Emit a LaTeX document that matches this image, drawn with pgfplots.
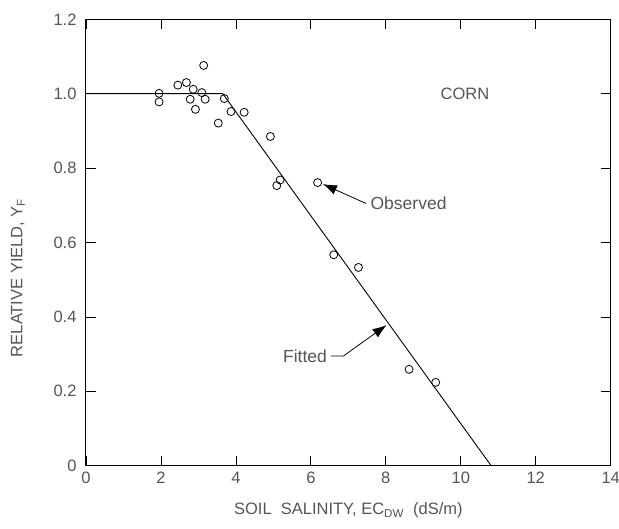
\documentclass[border=0pt]{standalone}
\usepackage{pgfplots}
\pgfplotsset{compat=1.18}
\usetikzlibrary{arrows.meta}
\usepackage{fontspec}
\setmainfont{Liberation Sans}
\definecolor{txtgray}{RGB}{85,85,85}

\begin{document}
\begin{tikzpicture}
\begin{axis}[
  scale only axis,
  width=524.7pt, height=446.4pt,
  xmin=0, xmax=14, ymin=0, ymax=1.2,
  xtick={0,2,...,14}, ytick={0,0.2,...,1.2},
  yticklabels={0,0.2,0.4,0.6,0.8,1.0,1.2},
  tick align=inside, major tick length=10pt,
  tick style={black, line width=0.8pt},
  axis line style={black, line width=1pt},
  /pgf/number format/assume math mode=true,
  ticklabel style={font=\fontsize{16.5}{18}\selectfont, text=txtgray},
  xticklabel style={yshift=-3pt},
  yticklabel style={xshift=-6pt},
  xlabel={SOIL\ \ SALINITY, EC\textsubscript{DW}\ \ (dS/m)},
  ylabel={RELATIVE YIELD, Y\textsubscript{F}},
  label style={font=\fontsize{16.5}{18}\selectfont, text=txtgray},
  xlabel style={at={(axis description cs:0.5,-0.100)}, anchor=center},
  ylabel style={at={(axis description cs:-0.1296,0.421)}, anchor=center, rotate=0},
  clip=false,
]
% fitted line
\addplot[black, line width=0.9pt] coordinates {(0,1.0) (3.65,1.0) (10.81,0)};
% observed points
\addplot[only marks, mark=o, mark size=4pt, mark options={black, line width=0.8pt}] coordinates {
  (1.95,1.001) (1.95,0.978) (2.45,1.023) (2.68,1.030) (3.14,1.076)
  (2.86,1.012) (3.09,1.003) (2.78,0.985) (3.18,0.985) (2.92,0.958)
  (3.69,0.987) (3.53,0.921) (3.87,0.952) (4.22,0.950) (4.92,0.885)
  (5.18,0.768) (5.09,0.753) (6.18,0.761) (6.61,0.567) (7.27,0.533)
  (8.62,0.259) (9.33,0.224)};
\node[font=\fontsize{16.5}{18}\selectfont, text=txtgray] at (axis cs:10.11,1.0) {CORN};
\draw[-{Latex[length=14pt,width=10pt]}, line width=0.8pt, black] (axis cs:7.47,0.705) -- (axis cs:6.32,0.757);
\node[anchor=west, font=\fontsize{17.5}{19}\selectfont, text=txtgray] at (axis cs:7.50,0.705) {Observed};
\draw[-{Latex[length=14pt,width=10pt]}, line width=0.8pt, black] (axis cs:6.54,0.295) -- (axis cs:6.87,0.295) -- (axis cs:8.02,0.378);
\node[anchor=east, font=\fontsize{17.5}{19}\selectfont, text=txtgray] at (axis cs:6.52,0.295) {Fitted};
\end{axis}
\pgfresetboundingbox
\path (current axis.south west) ++(-86pt,-62.3pt) rectangle ([shift={(8.3pt,19.3pt)}]current axis.north east);
\end{tikzpicture}
\end{document}
